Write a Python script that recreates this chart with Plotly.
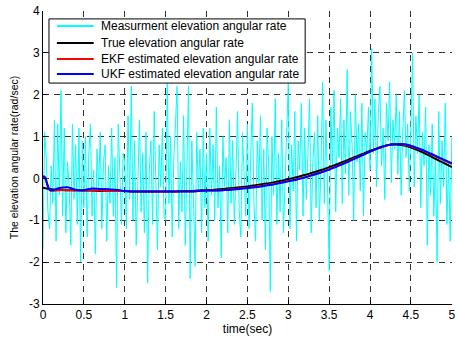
import numpy as np
import plotly.graph_objects as go

# ---------------- data ----------------
meas_time = [round(i * 0.02, 2) for i in range(251)]
meas_rate = [
    -1.7, 1.1, 0.5, -0.8, -1.2, 0.3, -0.6, 1.4, -1.5, 1.3, -0.4, 2.1, -0.9, 1.2, -1.3, 0.4, -0.2, -1.6, 1.3, -0.5, 0.8, -1.1, 1.2, -2.0, 0.9,
    -0.7, 1.0, -1.4, 0.6, 1.3, -0.9, 0.2, -1.8, 0.7, -0.3, 1.1, -1.2, 0.4, 0.8, -1.5, 0.3, -0.6, 1.2, -0.9, 0.5, -2.6, 1.3, -0.2, -1.1, 0.6,
    0.4, -1.2, 1.5, -0.5, 2.2, -1.0, 0.9, -1.6, 0.3, 1.4, -0.8, 0.6, -1.3, 1.1, -2.5, 0.2, 0.9, -1.1, 1.6, -0.4, -1.7, 0.8, -0.2, 1.2, -0.9,
    -1.0, 2.3, -0.6, 1.0, -1.4, 0.5, 1.3, 2.2, -1.2, 0.4, -0.8, 1.5, -1.6, 0.2, 2.2, -2.4, 0.9, -0.5, -2.1, 1.1, -0.3, 0.7, -1.3, 1.2, -0.7,
    0.6, -1.5, 1.2, -0.4, 0.8, -1.0, 1.7, -0.7, 0.3, -1.9, 1.0, -0.2, 0.5, -1.3, 1.4, -0.6, 0.9, -1.1, 0.2, 1.6, -0.8, -1.4, 1.1, 0.0, -0.9,
    1.3, -1.2, 0.5, 1.8, -0.6, -1.5, 0.9, -0.1, 1.5, -1.0, 0.7, -1.7, 1.2, 0.3, -2.7, 1.0, -0.4, 1.9, -1.1, 0.6, -0.8, 1.4, -1.3, 0.2, 1.1,
    2.3, -1.2, 0.8, -0.3, 1.6, -1.5, 0.9, 0.2, 1.8, -0.9, 1.2, -0.5, 0.6, 1.9, -1.3, 0.4, 1.1, -0.7, 1.5, -1.0, 0.3, 2.3, -0.6, 1.4, -0.2,
    -2.2, 1.7, 0.3, 2.1, -0.8, 1.2, 0.5, 1.9, -0.6, 1.4, 0.1, 2.6, -0.4, 1.6, 0.8, -1.0, 2.0, 0.4, 1.3, -0.3, 1.8, -0.9, 1.1, 0.6, 1.7,
    0.2, 3.1, 0.6, 1.9, -0.2, 1.5, 2.2, 0.3, 1.2, -0.5, 1.8, 0.9, 2.3, -0.1, 1.4, 0.7, 2.0, 0.1, 1.6, -0.4, 1.1, 2.1, 0.5, 1.3, -0.3,
    1.2, 3.0, -0.2, 1.5, 0.6, 2.0, -0.7, 1.1, 0.3, 1.7, -1.6, 0.8, -0.4, 1.3, -0.9, 0.5, -2.0, 1.6, -0.6, 0.9, -0.2, 1.8, -1.1, 0.4, -1.5, 1.0,
]

true_time = [round(i * 0.1, 1) for i in range(51)]
true_rate = [
    -0.22, -0.26, -0.27, -0.28, -0.28, -0.29, -0.29, -0.30, -0.30, -0.30,
    -0.30, -0.31, -0.31, -0.31, -0.31, -0.31, -0.31, -0.30, -0.30, -0.29,
    -0.28, -0.27, -0.25, -0.23, -0.21, -0.19, -0.16, -0.13, -0.10, -0.06,
    -0.02, 0.03, 0.08, 0.14, 0.20, 0.27, 0.34, 0.42, 0.50, 0.58,
    0.66, 0.73, 0.79, 0.81, 0.79, 0.74, 0.66, 0.57, 0.47, 0.37, 0.27,
]

est_time = [0.0, 0.02, 0.04, 0.06, 0.08] + [round(i * 0.1, 1) for i in range(1, 51)]
ekf_rate = [
    0.03, 0.02, -0.08, -0.20, -0.27,
    -0.29, -0.28, -0.28, -0.29, -0.29, -0.29, -0.29, -0.30, -0.30, -0.30,
    -0.31, -0.31, -0.31, -0.31, -0.31, -0.31, -0.31, -0.31, -0.30, -0.29,
    -0.29, -0.28, -0.26, -0.24, -0.22, -0.20, -0.17, -0.14, -0.10, -0.06,
    -0.02, 0.03, 0.09, 0.15, 0.22, 0.30, 0.38, 0.47, 0.55, 0.64,
    0.72, 0.78, 0.82, 0.81, 0.77, 0.70, 0.62, 0.53, 0.44, 0.35,
]
ukf_rate = [
    0.05, 0.04, -0.05, -0.18, -0.27,
    -0.29, -0.23, -0.21, -0.27, -0.28, -0.24, -0.25, -0.26, -0.27, -0.30,
    -0.31, -0.31, -0.31, -0.31, -0.31, -0.31, -0.31, -0.31, -0.30, -0.29,
    -0.29, -0.28, -0.27, -0.25, -0.23, -0.21, -0.18, -0.15, -0.11, -0.07,
    -0.03, 0.02, 0.08, 0.14, 0.21, 0.29, 0.37, 0.46, 0.55, 0.64,
    0.72, 0.79, 0.82, 0.82, 0.78, 0.71, 0.63, 0.54, 0.45, 0.36,
]

series_names = [
    "Measurment elevation angular rate",
    "True elevation angular rate",
    "EKF estimated elevation angular rate",
    "UKF estimated elevation angular rate",
]

x_ticks = [0, 0.5, 1, 1.5, 2, 2.5, 3, 3.5, 4, 4.5, 5]
x_labels = ["0", "0.5", "1", "1.5", "2", "2.5", "3", "3.5", "4", "4.5", "5"]
y_ticks = [-3, -2, -1, 0, 1, 2, 3, 4]
y_labels = ["-3", "-2", "-1", "0", "1", "2", "3", "4"]

# ---------------- styles ----------------
FONT = "Liberation Sans, Arial, sans-serif"
colors = ["#00FFFF", "black", "#FF0000", "#0000FF"]
widths = [1, 2, 2, 2]

fig = go.Figure()
series = [(meas_time, meas_rate, "linear"), (true_time, true_rate, "spline"),
          (est_time, ekf_rate, "spline"), (est_time, ukf_rate, "spline")]
for (xs, ys, shp), name, c, w in zip(series, series_names, colors, widths):
    fig.add_trace(go.Scatter(x=xs, y=ys, mode="lines", name=name,
                             line=dict(color=c, width=w, shape=shp),
                             showlegend=False))

grid = dict(showgrid=True, gridcolor="rgb(50,50,50)", gridwidth=1, griddash="6px,5px")
fig.update_xaxes(range=[0, 5.002], tickvals=x_ticks, ticktext=x_labels,
                 ticks="inside", ticklen=4, tickcolor="black",
                 showline=True, linecolor="black", linewidth=1,
                 ticklabeloverflow="allow",
                 zeroline=False, title=dict(text="time(sec)", standoff=3,
                                            font=dict(size=12, color="black")),
                 tickfont=dict(size=12, color="black"), **grid)
fig.update_yaxes(range=[-3, 4], tickvals=y_ticks, ticktext=y_labels,
                 ticks="inside", ticklen=4, tickcolor="black",
                 showline=True, linecolor="black", linewidth=1,
                 zeroline=False,
                 title=dict(text="The elevation angular rate(rad/sec)", standoff=8,
                            font=dict(size=10.5, color="black")),
                 tickfont=dict(size=12, color="black"), **grid)

# ---------------- MATLAB-style legend box (paper coords) ----------------
box_x0, box_x1, box_y0, box_y1 = 0.0146, 0.641, 0.754, 0.973
line_x0, line_x1, text_x = 0.034, 0.124, 0.136
row_y = [0.949, 0.891, 0.836, 0.785]
shapes = [dict(type="rect", xref="paper", yref="paper", x0=box_x0, x1=box_x1,
               y0=box_y0, y1=box_y1, fillcolor="white",
               line=dict(color="black", width=1), layer="above")]
annotations = []
for name, c, ry in zip(series_names, colors, row_y):
    shapes.append(dict(type="line", xref="paper", yref="paper", x0=line_x0, x1=line_x1,
                       y0=ry, y1=ry, line=dict(color=c, width=2), layer="above"))
    annotations.append(dict(xref="paper", yref="paper", x=text_x, y=ry, text=name,
                            showarrow=False, xanchor="left", yanchor="middle",
                            font=dict(size=12, color="black", family=FONT)))

fig.update_layout(
    width=458, height=340,
    margin=dict(l=43, r=3, t=11, b=36),
    paper_bgcolor="white", plot_bgcolor="white",
    font=dict(family=FONT, size=12, color="black"),
    showlegend=False,
    shapes=shapes, annotations=annotations,
)

fig.write_html("out.html")
